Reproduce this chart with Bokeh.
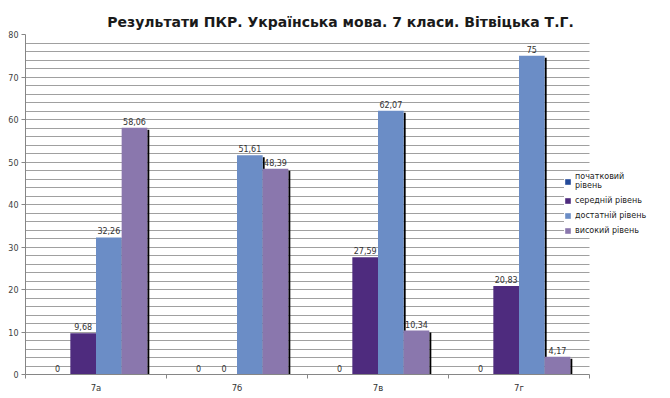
from bokeh.plotting import figure
from bokeh.models import (ColumnDataSource, FixedTicker, Legend, LegendItem, Range1d,
                          BoxAnnotation)
from bokeh.core.properties import value
from bokeh.embed import file_html
from bokeh.resources import INLINE

# ---- data ----
categories = ["7а", "7б", "7в", "7г"]
series_names = ["початковий\nрівень", "середній рівень", "достатній рівень", "високий рівень"]
pochatkovyi = [0, 0, 0, 0]
serednii = [9.68, 0, 27.59, 20.83]
dostatnii = [32.26, 51.61, 62.07, 75]
vysokyi = [58.06, 48.39, 10.34, 4.17]
y_ticks = [0, 10, 20, 30, 40, 50, 60, 70, 80]

series_values = [pochatkovyi, serednii, dostatnii, vysokyi]
colors = ["#244a9a", "#4e2b7e", "#6b8dc6", "#8a77ad"]

FRAME_W = 630
FRAME_H = 340
CAT_PX = 141.0
n = len(categories)
x_end = -0.5 + FRAME_W / CAT_PX

bw = 0.182
offsets = [-1.5 * bw, -0.5 * bw, 0.5 * bw, 1.5 * bw]

FONT = "DejaVu Sans"

p = figure(frame_width=FRAME_W, frame_height=FRAME_H, output_backend="svg",
           toolbar_location=None,
           x_range=Range1d(-0.5, x_end), y_range=Range1d(0, 80),
           min_border_left=25, min_border_right=0, min_border_bottom=22,
           min_border_top=34)
p.outline_line_color = None
p.background_fill_color = "white"
p.border_fill_color = "white"

p.title.text = "Результати ПКР. Українська мова. 7 класи. Вітвіцька Т.Г."
p.title.text_font = FONT
p.title.text_font_size = "14px"
p.title.text_font_style = "bold"
p.title.text_color = "#1a1a1a"
p.title.align = "center"
p.title.offset = -13
p.title.standoff = 9

# grid
p.xgrid.visible = False
p.ygrid.ticker = FixedTicker(ticks=list(range(0, 81, 2)))
p.ygrid.grid_line_color = "#a0a0a0"
p.ygrid.grid_line_width = 1

# white cover so grid lines stop at the last category's edge
p.add_layout(BoxAnnotation(left=n - 0.5, fill_color="white", fill_alpha=1,
                           line_color=None, level="underlay"))

# y axis
p.yaxis.ticker = FixedTicker(ticks=y_ticks)
p.yaxis.axis_line_color = "#868686"
p.yaxis.major_tick_line_color = "#868686"
p.yaxis.major_tick_out = 4
p.yaxis.major_tick_in = 0
p.yaxis.minor_tick_line_color = None
p.yaxis.major_label_text_font = FONT
p.yaxis.major_label_text_font_size = "8px"
p.yaxis.major_label_text_color = "#404040"
p.yaxis.major_label_standoff = 3

# x axis
p.xaxis.bounds = (-0.5, n - 0.5)
p.xaxis.ticker = FixedTicker(ticks=list(range(n)),
                             minor_ticks=[i - 0.5 for i in range(n + 1)])
p.xaxis.major_label_overrides = {i: c for i, c in enumerate(categories)}
p.xaxis.axis_line_color = "#868686"
p.xaxis.major_tick_line_color = None
p.xaxis.major_tick_out = 0
p.xaxis.major_tick_in = 0
p.xaxis.minor_tick_line_color = "#868686"
p.xaxis.minor_tick_out = 4
p.xaxis.minor_tick_in = 0
p.xaxis.major_label_text_font = FONT
p.xaxis.major_label_text_font_size = "8.5px"
p.xaxis.major_label_text_color = "#333333"
p.xaxis.major_label_standoff = 4

# shadows first (so following bars cover them)
sh_w = 2.0 / CAT_PX
sh_drop = 2.0 / (FRAME_H / 80.0)
for vals, off in zip(series_values, offsets):
    xs = [i + off for i in range(n)]
    src = ColumnDataSource(dict(
        left=[x + bw / 2 for x in xs],
        right=[x + bw / 2 + sh_w for x in xs],
        top=[max(v - sh_drop, 0) for v in vals],
        bottom=[0] * len(vals)))
    p.quad(left="left", right="right", top="top", bottom="bottom", source=src,
           fill_color="black", line_color=None)

renderers = []
for vals, off, col in zip(series_values, offsets, colors):
    xs = [i + off for i in range(n)]
    src = ColumnDataSource(dict(x=xs, top=vals))
    r = p.vbar(x="x", top="top", width=bw, source=src, fill_color=col,
               line_color=None)
    renderers.append(r)


def fmt(v):
    return str(int(v)) if float(v).is_integer() else f"{v:.2f}".replace(".", ",")


lx, ly, lt = [], [], []
for vals, off in zip(series_values, offsets):
    for i, v in enumerate(vals):
        lx.append(i + off)
        ly.append(v)
        lt.append(fmt(v))
lsrc = ColumnDataSource(dict(x=lx, y=ly, t=lt))
p.text(x="x", y="y", text="t", source=lsrc, text_align="center",
       text_baseline="bottom", y_offset=-3, text_font=value(FONT),
       text_font_size="8px", text_color="#333333")

legend = Legend(items=[LegendItem(label=nm, renderers=[r])
                       for nm, r in zip(series_names, renderers)],
                location=(539, 139), orientation="vertical")
legend.label_text_font = FONT
legend.label_text_font_size = "8px"
legend.label_text_color = "#222222"
legend.glyph_width = 7
legend.glyph_height = 7
legend.label_standoff = 4
legend.label_height = 9
legend.spacing = 6
legend.padding = 4
legend.margin = 0
legend.border_line_color = None
legend.background_fill_color = "white"
legend.background_fill_alpha = 1
p.add_layout(legend, "center")

open("out.html", "w").write(file_html(p, INLINE))
